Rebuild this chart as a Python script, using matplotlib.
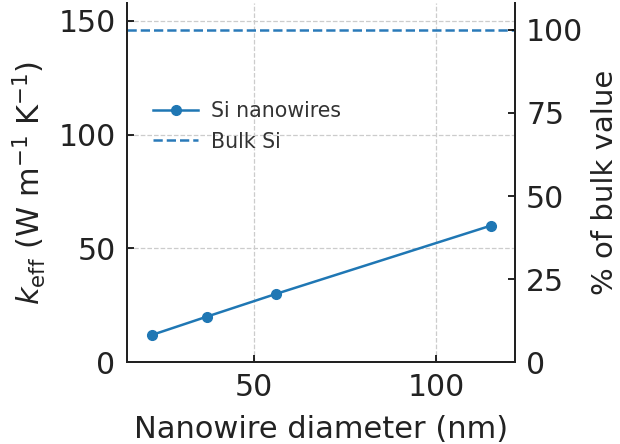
import matplotlib
matplotlib.use("Agg")
import matplotlib.pyplot as plt
import numpy as np

# nanowire data
diameter = [22, 37, 56, 115]      # nm
k_eff = [12, 20, 30, 60]          # W m^-1 K^-1
k_bulk = 146                      # bulk Si

x_ticks = [50, 100]
y_ticks = [0, 50, 100, 150]
pct_ticks = [0, 25, 50, 75, 100]

plt.rcParams['font.family'] = 'DejaVu Sans'
text_col = '#222222'

fig = plt.figure(figsize=(6.2, 4.44), dpi=100)
ax = fig.add_axes([0.2044, 0.184, 0.8306 - 0.2044, 0.993 - 0.184])

ax.plot(diameter, k_eff, color='#1f77b4', marker='o', markersize=7, linewidth=1.8,
        label='Si nanowires')
ax.axhline(k_bulk, color='#2a7ab9', linestyle='--', linewidth=1.8, label='Bulk Si')

ymax = k_bulk * 1.08
ax.set_xlim(15.1, 121.6)
ax.set_ylim(0, ymax)
ax.set_xticks(x_ticks)
ax.set_yticks(y_ticks)

ax.grid(True, linestyle='--', color='#cccccc', linewidth=0.9)
ax.set_axisbelow(True)

ax.set_xlabel('Nanowire diameter (nm)', fontsize=22, color=text_col, labelpad=9)
ax.set_ylabel(r'$k_{\mathrm{eff}}$ (W m$^{-1}$ K$^{-1}$)', fontsize=22,
              color=text_col)
ax.yaxis.set_label_coords(-0.202, 0.5)
ax.tick_params(direction='in', length=5, width=1.2, labelsize=21.5,
               labelcolor=text_col, pad=8)

ax2 = ax.twinx()
ax2.set_ylim(0, ymax / k_bulk * 100)
ax2.set_yticks(pct_ticks)
ax2.set_ylabel('% of bulk value', fontsize=21, color=text_col)
ax2.yaxis.set_label_coords(1.197, 0.5)
ax2.tick_params(direction='in', length=5, width=1.2, labelsize=21.5,
                labelcolor=text_col, pad=8)

for a in (ax, ax2):
    a.spines['top'].set_visible(False)
    for s in ('left', 'right', 'bottom'):
        a.spines[s].set_linewidth(1.4)
        a.spines[s].set_color('#222222')

ax.legend(loc='upper left', bbox_to_anchor=(0.02, 0.778), frameon=False,
          fontsize=14.8, labelcolor='#333333', handlelength=2.2,
          handletextpad=0.6)

fig.savefig('out.png', dpi=100)
